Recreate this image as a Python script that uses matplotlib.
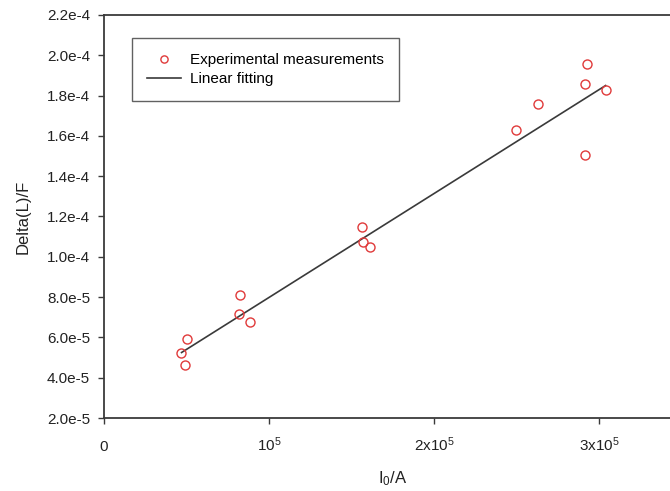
import numpy as np
import matplotlib.pyplot as plt
from matplotlib.ticker import FixedLocator

plt.rcParams['font.family'] = ['Liberation Sans', 'DejaVu Sans']
plt.rcParams['mathtext.fontset'] = 'custom'
plt.rcParams['mathtext.rm'] = 'Liberation Sans'
plt.rcParams['mathtext.it'] = 'Liberation Sans:italic'

# measured points (I0/A, Delta(L)/F)
x_meas = [0.467e5, 0.491e5, 0.503e5,
          0.824e5, 0.818e5, 0.885e5,
          1.564e5, 1.570e5, 1.612e5,
          2.497e5, 2.630e5,
          2.925e5, 2.915e5, 3.042e5, 2.915e5]
y_meas = [5.23e-5, 4.63e-5, 5.92e-5,
          8.10e-5, 7.16e-5, 6.76e-5,
          1.148e-4, 1.073e-4, 1.049e-4,
          1.629e-4, 1.758e-4,
          1.957e-4, 1.858e-4, 1.828e-4, 1.505e-4]

# linear fit end points
x_fit = [0.47e5, 3.04e5]
y_fit = [5.25e-5, 1.85e-4]

y_ticks = [2.0e-5, 4.0e-5, 6.0e-5, 8.0e-5, 1.0e-4, 1.2e-4, 1.4e-4, 1.6e-4, 1.8e-4, 2.0e-4, 2.2e-4]
y_labels = ['2.0e-5', '4.0e-5', '6.0e-5', '8.0e-5', '1.0e-4', '1.2e-4',
            '1.4e-4', '1.6e-4', '1.8e-4', '2.0e-4', '2.2e-4']
x_ticks = [0, 1e5, 2e5, 3e5]
x_labels = ['0', r'$\mathregular{10^5}$', r'2x$\mathregular{10^5}$', r'3x$\mathregular{10^5}$']

fig = plt.figure(figsize=(6.7, 4.91), dpi=100)
ax = fig.add_axes([104/670, 1 - 418/491, 577.5/670, 403/491])

ax.plot(x_meas, y_meas, 'o', ms=6.5, mfc='none', mec='#e03a3a', mew=1.0,
        label='Experimental measurements', zorder=3)
ax.plot(x_fit, y_fit, '-', color='#3a3a3a', lw=1.2, label='Linear fitting', zorder=2)

ax.set_xlim(0, 3.5e5)
ax.set_ylim(2.0e-5, 2.2e-4)
ax.xaxis.set_major_locator(FixedLocator(x_ticks))
ax.set_xticklabels(x_labels)
ax.yaxis.set_major_locator(FixedLocator(y_ticks))
ax.set_yticklabels(y_labels)

for s in ax.spines.values():
    s.set_color('#3a3a3a')
    s.set_linewidth(1.3)
ax.tick_params(direction='out', length=4, width=1.0, color='#3a3a3a',
               labelsize=11, labelcolor='#222222')
ax.tick_params(axis='x', pad=20)
ax.tick_params(axis='y', pad=6)
for lbl in ax.get_xticklabels():
    lbl.set_verticalalignment('baseline')

ax.set_xlabel(r'I$_\mathregular{0}$/A', fontsize=12, color='#222222', labelpad=11)
ax.set_ylabel('Delta(L)/F', fontsize=12, color='#222222', labelpad=12)

leg = ax.legend(loc='upper left', bbox_to_anchor=(132/670, 1 - 38/491),
                bbox_transform=fig.transFigure, fontsize=11, frameon=True,
                fancybox=False, edgecolor='#3a3a3a', handlelength=2.2,
                borderpad=1.0, labelspacing=0.3, handletextpad=0.6,
                borderaxespad=0, markerscale=0.8)
leg.get_frame().set_linewidth(1.0)

fig.savefig('out.png', dpi=100)
